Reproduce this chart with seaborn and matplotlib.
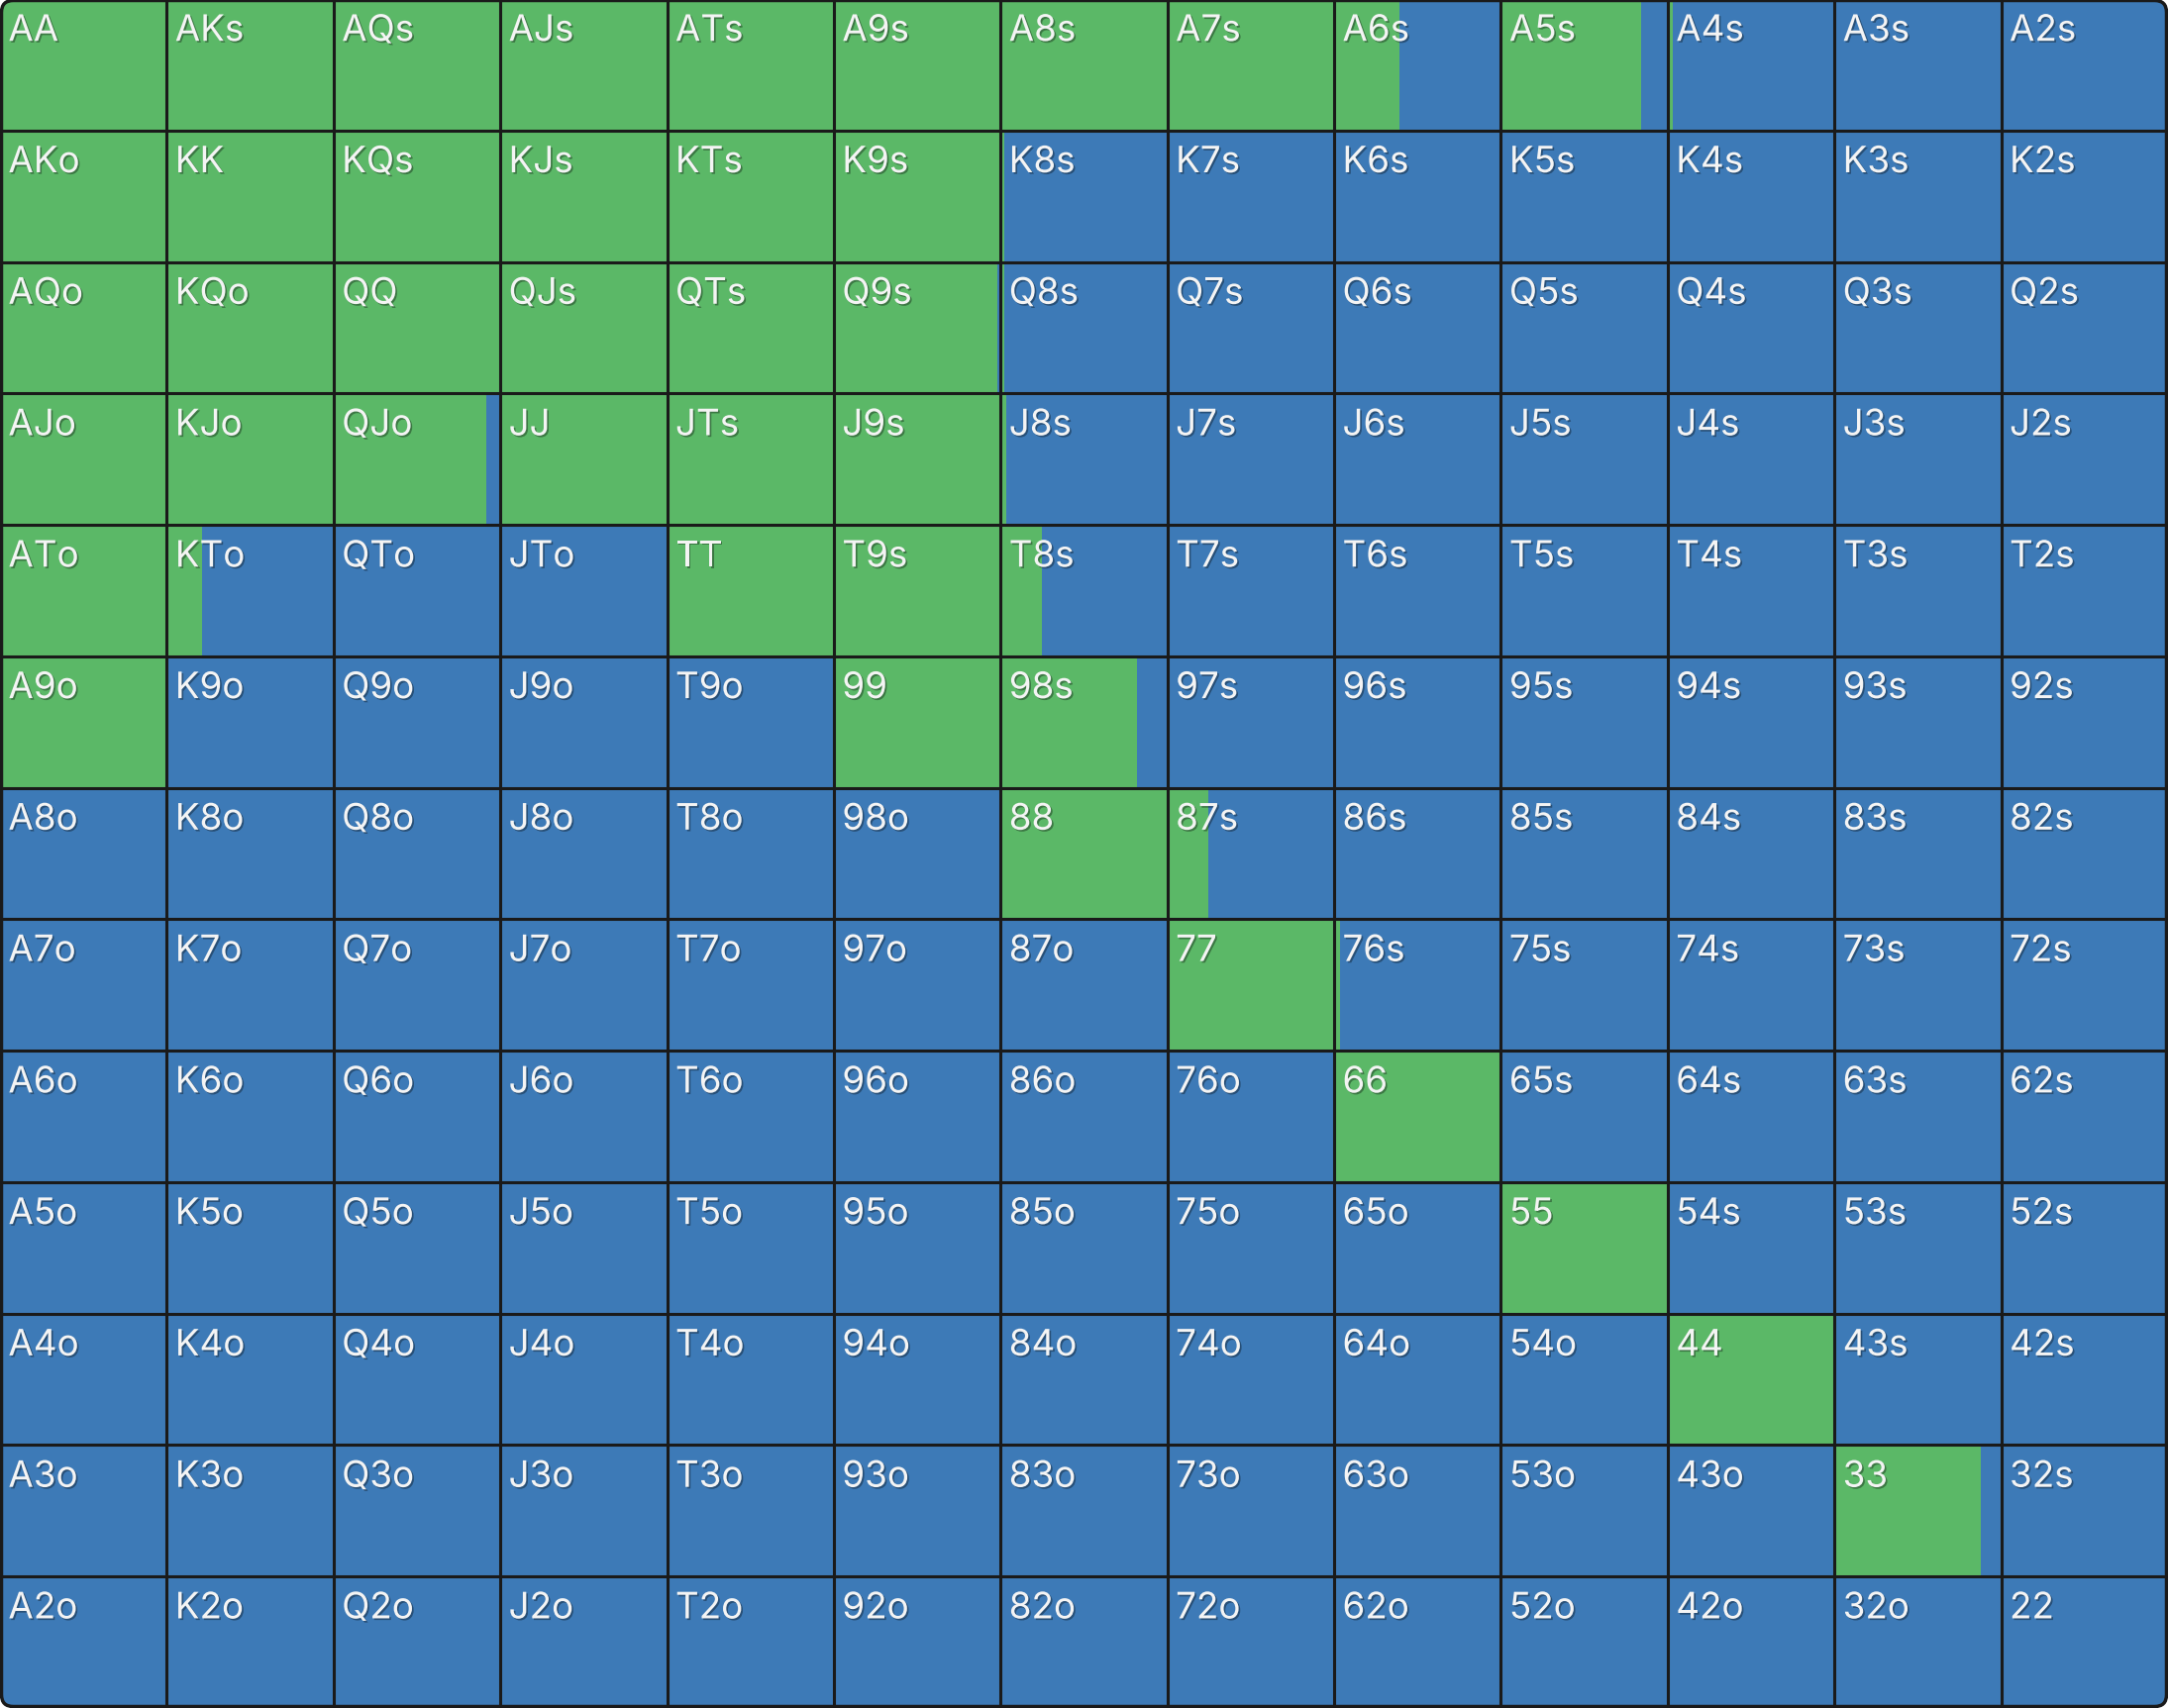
import numpy as np
import matplotlib
matplotlib.use("Agg")
import matplotlib.pyplot as plt
import matplotlib.patheffects as pe
from matplotlib.colors import ListedColormap
from matplotlib.patches import FancyBboxPatch
from matplotlib.transforms import IdentityTransform
import seaborn as sns

# ranks along rows / columns of the hand grid
ranks = ["A", "K", "Q", "J", "T", "9", "8", "7", "6", "5", "4", "3", "2"]

# fraction of each cell played as green action (rest is blue)
row_A = [1, 1, 1, 1, 1, 1, 1, 1, 0.39, 0.84, 0.03, 0, 0]
row_K = [1, 1, 1, 1, 1, 1, 0.02, 0, 0, 0, 0, 0, 0]
row_Q = [1, 1, 1, 1, 1, 0.98, 0.02, 0, 0, 0, 0, 0, 0]
row_J = [1, 1, 0.915, 1, 1, 1, 0.035, 0, 0, 0, 0, 0, 0]
row_T = [1, 0.21, 0.012, 0.012, 1, 1, 0.25, 0, 0, 0, 0, 0, 0]
row_9 = [1, 0, 0, 0, 0, 1, 0.815, 0, 0, 0, 0, 0, 0]
row_8 = [0.015, 0, 0, 0, 0, 0, 1, 0.245, 0, 0, 0, 0, 0]
row_7 = [0, 0, 0, 0, 0, 0, 0, 1, 0.035, 0, 0, 0, 0]
row_6 = [0, 0, 0, 0, 0, 0, 0, 0, 1, 0, 0, 0, 0]
row_5 = [0, 0, 0, 0, 0, 0, 0, 0, 0, 1, 0, 0, 0]
row_4 = [0, 0, 0, 0, 0, 0, 0, 0, 0, 0, 1, 0, 0]
row_3 = [0, 0, 0, 0, 0, 0, 0, 0, 0, 0, 0, 0.88, 0]
row_2 = [0, 0, 0, 0, 0, 0, 0, 0, 0, 0, 0, 0, 0]
green_frac = [row_A, row_K, row_Q, row_J, row_T, row_9, row_8,
              row_7, row_6, row_5, row_4, row_3, row_2]

GREEN = "#5bb867"
BLUE = "#3d7ab7"
LINE = "#1a1a1a"

W, H, DPI = 2189, 1726, 100
fig = plt.figure(figsize=(21.89, 17.2599), dpi=DPI, facecolor="white")
ax = fig.add_axes([0, 0, 1, 1])

n = len(ranks)
sns.heatmap(np.zeros((n, n)), cmap=ListedColormap([BLUE]), cbar=False,
            ax=ax, xticklabels=False, yticklabels=False)

# green part of every cell
bars = []
for r, row in enumerate(green_frac):
    for c, f in enumerate(row):
        if f > 0:
            b = ax.barh(r + 0.5, f, left=c, height=1.0, color=GREEN,
                        linewidth=0, zorder=2)
            bars.extend(b.patches)

# grid lines
ax.hlines(np.arange(1, n), 0, n, color=LINE, linewidth=2.2, zorder=3)
ax.vlines(np.arange(1, n), 0, n, color=LINE, linewidth=2.2, zorder=3)

# hand labels
shadow = [pe.SimplePatchShadow(offset=(1.2, -1.2), shadow_rgbFace="black", alpha=0.35),
          pe.Normal()]
for r in range(n):
    for c in range(n):
        if r == c:
            label = ranks[r] + ranks[c]
        elif c > r:
            label = ranks[r] + ranks[c] + "s"
        else:
            label = ranks[c] + ranks[r] + "o"
        ax.text(c + 0.05, r + 0.318, label, color="#f4f4f4", fontsize=26.5,
                family=["Inter", "DejaVu Sans"], ha="left", va="baseline",
                zorder=4, path_effects=shadow)

ax.set_xlim(0, n)
ax.set_ylim(n, 0)
ax.axis("off")

# rounded outer frame, clipping the cells
frame = FancyBboxPatch((1.5, 1.5), W - 3, H - 3,
                       boxstyle="round,pad=0,rounding_size=12",
                       transform=IdentityTransform(), facecolor="none",
                       edgecolor=LINE, linewidth=2.5, zorder=5)
fig.patches.append(frame)
clip = FancyBboxPatch((1.5, 1.5), W - 3, H - 3,
                      boxstyle="round,pad=0,rounding_size=12",
                      transform=IdentityTransform())
for art in list(ax.collections) + bars:
    art.set_clip_path(clip)

fig.savefig("out.png", dpi=DPI, facecolor="white")
